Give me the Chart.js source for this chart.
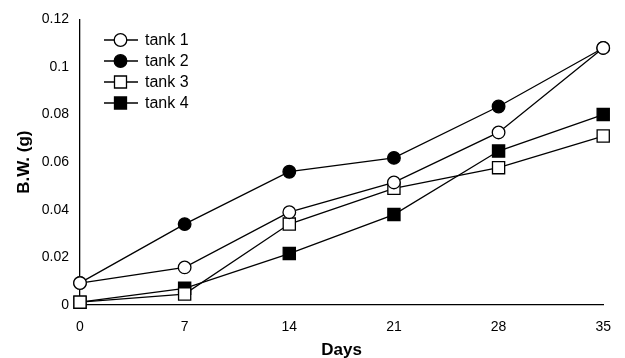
<!DOCTYPE html>
<html>
<head>
<meta charset="utf-8">
<script src="https://cdn.jsdelivr.net/npm/chart.js@4.4.1/dist/chart.umd.min.js"></script>
<style>
  html, body { margin: 0; padding: 0; background: #fff; }
  #wrap { width: 625px; height: 358px; position: relative; }
</style>
</head>
<body>
<div id="wrap"><canvas id="chart"></canvas></div>
<script>
// Days of sampling and body weight (g) per tank
const days = [0, 7, 14, 21, 28, 35];
const tank1 = [0.0092, 0.0158, 0.039, 0.0515, 0.0725, 0.108];
const tank2 = [0.0093, 0.034, 0.056, 0.0618, 0.0834, 0.108];
const tank3 = [0.0012, 0.0046, 0.034, 0.049, 0.0577, 0.071];
const tank4 = [0.0012, 0.007, 0.0216, 0.038, 0.0647, 0.080];
const yTicks = [0, 0.02, 0.04, 0.06, 0.08, 0.1, 0.12];

const FONT = '"Liberation Sans", Arial, sans-serif';

function series(label, values, style, filled) {
    return {
        label: label,
        data: days.map((d, i) => ({ x: d, y: values[i] })),
        borderColor: '#000',
        borderWidth: 1.3,
        pointStyle: style,
        pointRadius: style === 'rect' ? 8.6 : 6.3,
        pointBorderWidth: 1.3,
        pointBorderColor: '#000',
        pointBackgroundColor: filled ? '#000' : '#fff',
        tension: 0,
        fill: false,
        clip: false
    };
}

// draws the legend box with a short line through each marker
const lineLegend = {
    id: 'lineLegend',
    afterDraw(chart) {
        const ctx = chart.ctx;
        ctx.save();
        chart.data.datasets.forEach((ds, i) => {
            const y = 40 + i * 21;
            ctx.strokeStyle = '#000';
            ctx.lineWidth = 1.3;
            ctx.beginPath();
            ctx.moveTo(104, y);
            ctx.lineTo(138, y);
            ctx.stroke();
            ctx.fillStyle = ds.pointBackgroundColor;
            ctx.beginPath();
            if (ds.pointStyle === 'rect') {
                ctx.rect(114.5, y - 6, 12, 12);
            } else {
                ctx.arc(120.5, y, 6.3, 0, Math.PI * 2);
            }
            ctx.fill();
            ctx.stroke();
            ctx.fillStyle = '#000';
            ctx.font = '16px ' + FONT;
            ctx.textBaseline = 'middle';
            ctx.fillText(ds.label, 145, y + 1);
        });
        ctx.restore();
    }
};

new Chart(document.getElementById('chart'), {
    type: 'line',
    data: {
        datasets: [
            series('tank 1', tank1, 'circle', false),
            series('tank 2', tank2, 'circle', true),
            series('tank 3', tank3, 'rect', false),
            series('tank 4', tank4, 'rect', true)
        ]
    },
    options: {
        responsive: true,
        maintainAspectRatio: false,
        animation: false,
        layout: { padding: { top: 16, right: 20, left: 0, bottom: 0 } },
        plugins: {
            legend: { display: false },
            tooltip: { enabled: false }
        },
        scales: {
            x: {
                type: 'linear',
                min: 0,
                max: 35,
                afterBuildTicks(axis) { axis.ticks = days.map(v => ({ value: v })); },
                afterFit(axis) { axis.height = 53; },
                grid: { display: false, drawTicks: false },
                border: { display: true, color: '#000', width: 1.3 },
                ticks: { color: '#000', padding: 14, font: { family: FONT, size: 14 } },
                title: {
                    display: true,
                    text: 'Days',
                    color: '#000',
                    padding: { top: 0, bottom: 0 },
                    font: { family: FONT, size: 17, weight: 'bold', lineHeight: 0.9 }
                }
            },
            y: {
                min: 0,
                max: 0.12,
                afterBuildTicks(axis) { axis.ticks = yTicks.map(v => ({ value: v })); },
                afterFit(axis) { axis.width = 80; },
                grid: { display: false, drawTicks: false },
                border: { display: true, color: '#000', width: 1.3 },
                ticks: {
                    color: '#000',
                    padding: 11,
                    font: { family: FONT, size: 14 },
                    callback: v => String(+v.toFixed(2))
                },
                title: {
                    display: true,
                    text: 'B.W. (g)',
                    color: '#000',
                    padding: { top: 14, bottom: 0 },
                    font: { family: FONT, size: 17, weight: 'bold', lineHeight: 1.2 }
                }
            }
        }
    },
    plugins: [lineLegend]
});
</script>
</body>
</html>
